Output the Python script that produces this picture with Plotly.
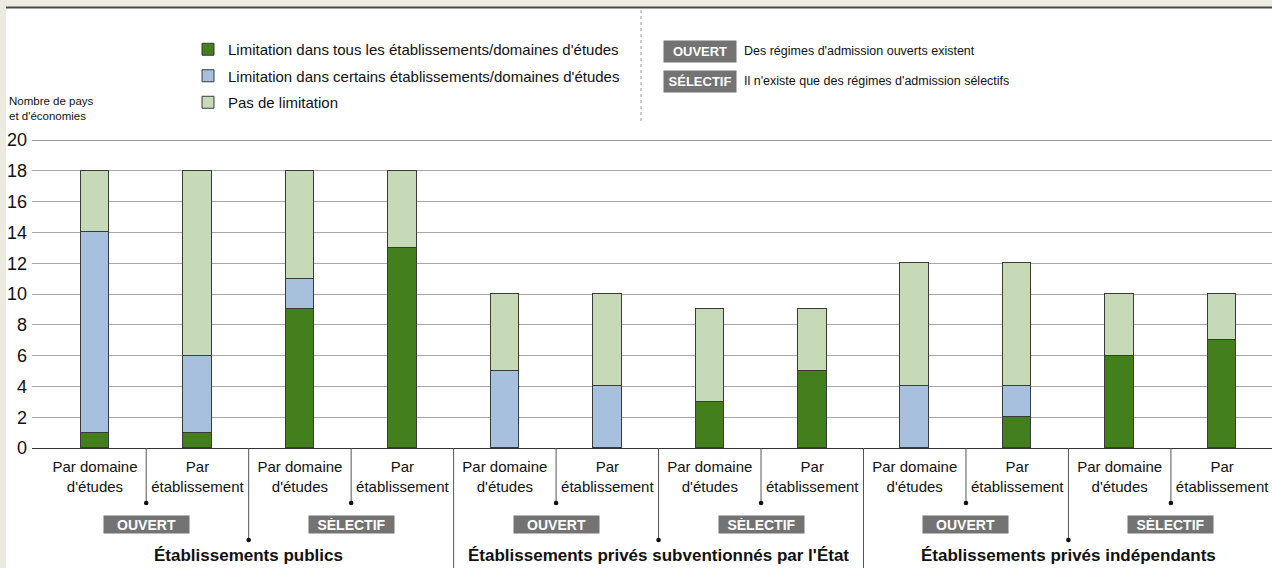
import plotly.graph_objects as go

# ---------------- data ----------------
sub_categories = ["Par domaine<br>d'études", "Par<br>établissement"] * 6
limit_all = [1, 1, 9, 13, 0, 0, 3, 5, 0, 2, 6, 7]
limit_some = [13, 5, 2, 0, 5, 4, 0, 0, 4, 2, 0, 0]
no_limit = [4, 12, 7, 5, 5, 6, 6, 4, 8, 8, 4, 3]
regime_labels = ["OUVERT", "SÉLECTIF"] * 3
group_titles = ["Établissements publics",
                "Établissements privés subventionnés par l'État",
                "Établissements privés indépendants"]
series_names = ["Limitation dans tous les établissements/domaines d'études",
                "Limitation dans certains établissements/domaines d'études",
                "Pas de limitation"]
key_labels = ["OUVERT", "SÉLECTIF"]
key_texts = ["Des régimes d'admission ouverts existent",
             "Il n'existe que des régimes d'admission sélectifs"]
y_title = "Nombre de pays<br>et d'économies"
y_ticks = list(range(0, 21, 2))

# ---------------- style ----------------
W, H = 1272, 568
L, R, T, B = 32, 0, 140, 120
PW, PH = W - L - R, H - T - B
FONT = "Liberation Sans Narrow, Arial Narrow, Liberation Sans, Arial, sans-serif"
C_ALL, C_SOME, C_NONE = "#437F1D", "#A7C0DE", "#C7DAB8"
OUTLINE = "#3a3a3a"
BOXGRAY = "#737373"
BEIGE = "#EDEBE0"


def px(xp):
    return (xp - L) / PW


def py(yp):
    return (H - B - yp) / PH


xs = list(range(len(limit_all)))
xmin = -0.6146
xmax = xmin + PW / 102.47

fig = go.Figure()
for i, (vals, name, col) in enumerate([(limit_all, series_names[0], C_ALL),
                                       (limit_some, series_names[1], C_SOME),
                                       (no_limit, series_names[2], C_NONE)]):
    fig.add_trace(go.Bar(x=xs, y=vals, name=name, width=0.278, legendgroup="g%d" % i,
                         marker=dict(color=col, line=dict(color=OUTLINE, width=1))))

shapes = []
annotations = []

# beige frame
shapes.append(dict(type="rect", xref="paper", yref="paper", x0=px(0), x1=px(6), y0=py(H), y1=py(0),
                   fillcolor=BEIGE, line_width=0, layer="above"))
shapes.append(dict(type="rect", xref="paper", yref="paper", x0=px(0), x1=px(W), y0=py(7), y1=py(0),
                   fillcolor=BEIGE, line_width=0, layer="above"))
shapes.append(dict(type="line", xref="paper", yref="paper", x0=px(6), x1=px(W), y0=py(7.5), y1=py(7.5),
                   line=dict(color="#4a4a4a", width=2), layer="above"))

# dark top line at 20
shapes.append(dict(type="line", xref="paper", yref="y", x0=0, x1=1, y0=20, y1=20,
                   line=dict(color="#333333", width=1.2)))

# dotted vertical divider in legend area
shapes.append(dict(type="line", xref="paper", yref="paper", x0=px(641), x1=px(641), y0=py(10), y1=py(124),
                   line=dict(color="#9a9a9a", width=1, dash="dot")))


def sep(xv, yend):
    shapes.append(dict(type="line", xref="x", yref="paper", x0=xv, x1=xv, y0=0, y1=py(yend),
                       line=dict(color="#555555", width=1)))


def dot(xv, ydot):
    shapes.append(dict(type="circle", xref="x", yref="paper", xsizemode="pixel", ysizemode="pixel",
                       xanchor=xv, yanchor=py(ydot), x0=-2.3, x1=2.3, y0=-2.3, y1=2.3,
                       fillcolor="#111111", line_width=0))


for g in range(3):
    base = g * 4
    for k in range(2):
        xv = base + 2 * k + 0.5
        sep(xv, 502)
        dot(xv, 503)
        annotations.append(dict(x=xv, xref="x", y=py(524), yref="paper", text="<b>%s</b>" % regime_labels[g * 2 + k],
                                showarrow=False, bgcolor=BOXGRAY, width=81, height=13, borderpad=2,
                                font=dict(family=FONT, size=14, color="white"), xanchor="center", yanchor="middle"))
    sep(base + 1.5, 539)
    dot(base + 1.5, 540)
    annotations.append(dict(x=base + 1.5, xref="x", y=py(555), yref="paper", text="<b>%s</b>" % group_titles[g],
                            showarrow=False, font=dict(family=FONT, size=17, color="#111111"),
                            xanchor="center", yanchor="middle"))
for xv in [3.5, 7.5]:
    sep(xv, H)

# key for OUVERT / SELECTIF
for i, (lab, txt) in enumerate(zip(key_labels, key_texts)):
    yc = 51 + 30 * i
    annotations.append(dict(x=px(700), xref="paper", y=py(yc), yref="paper", text="<b>%s</b>" % lab,
                            showarrow=False, bgcolor=BOXGRAY, width=68, height=17, borderpad=2,
                            font=dict(family=FONT, size=13, color="white"), xanchor="center", yanchor="middle"))
    annotations.append(dict(x=px(742), xref="paper", y=py(yc), yref="paper", text=txt,
                            showarrow=False, font=dict(family=FONT, size=12.5, color="#111111"),
                            xanchor="left", yanchor="middle"))

# y title
annotations.append(dict(x=px(7), xref="paper", y=py(108.5), yref="paper", text=y_title, align="left",
                        showarrow=False, font=dict(family=FONT, size=11.5, color="#111111"),
                        xanchor="left", yanchor="middle"))

fig.update_layout(
    width=W, height=H, margin=dict(l=L, r=R, t=T, b=B),
    paper_bgcolor="white", plot_bgcolor="white",
    barmode="stack", bargap=0,
    font=dict(family=FONT, color="#111111"),
    showlegend=True,
    legend=dict(x=px(188), y=py(33), xanchor="left", yanchor="top", traceorder="grouped",
                font=dict(family=FONT, size=15, color="#111111"), bgcolor="rgba(0,0,0,0)",
                tracegroupgap=4),
    xaxis=dict(range=[xmin, xmax], tickvals=xs, ticktext=sub_categories, showgrid=False, zeroline=False,
               showline=True, linecolor="#333333", linewidth=1.2, ticks="", ticklabelstandoff=5,
               ticklabeloverflow="allow", tickfont=dict(family=FONT, size=15, color="#111111")),
    yaxis=dict(range=[0, 20], tickvals=y_ticks, showgrid=True, gridcolor="#A8A8A8", gridwidth=1, zeroline=False,
               ticks="", ticklabelstandoff=4, tickfont=dict(family=FONT, size=18, color="#111111")),
    shapes=shapes, annotations=annotations,
)

fig.write_html("out.html", config={"displayModeBar": False},
               post_script="document.body.style.margin='0';")
